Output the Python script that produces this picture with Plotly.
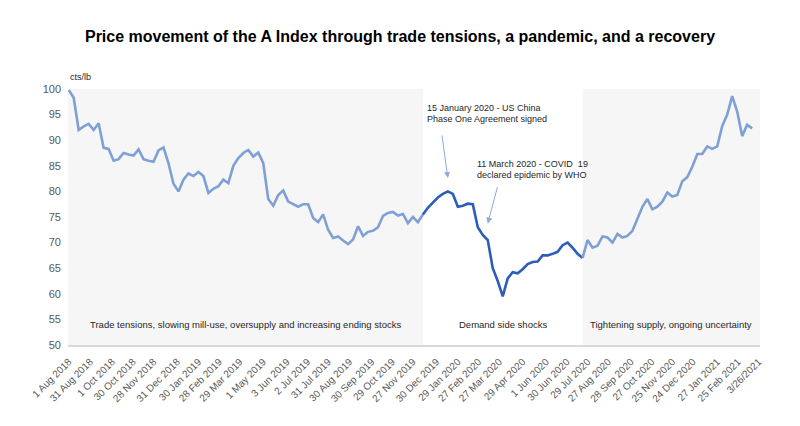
import pandas as pd
import plotly.graph_objects as go

# ---- data (weekly readings, cts/lb) ----
start_date = "2018-08-01"
price = [
    99.8, 98.3, 92.0, 92.7, 93.2, 92.0, 93.3, 88.5, 88.3, 86.0,
    86.3, 87.5, 87.2, 87.0, 88.2, 86.3, 86.0, 85.8, 88.0, 88.6,
    85.5, 81.5, 80.0, 82.3, 83.5, 83.0, 83.8, 83.0, 79.7, 80.5,
    81.0, 82.3, 81.6, 85.0, 86.5, 87.5, 88.1, 86.8, 87.6, 85.5,
    78.5, 77.2, 79.3, 80.2, 78.0, 77.5, 77.0, 77.5, 77.5, 74.8,
    74.0, 75.5, 72.5, 70.9, 71.2, 70.4, 69.7, 70.6, 73.2, 71.3,
    72.1, 72.3, 73.0, 75.2, 75.8, 76.0, 75.3, 75.6, 73.8, 75.0,
    74.0, 75.5, 76.8, 77.8, 78.8, 79.5, 80.0, 79.5, 77.0, 77.2,
    77.6, 77.5, 73.0, 71.5, 70.5, 65.0, 62.5, 59.5, 63.0, 64.2,
    64.0, 64.8, 65.8, 66.2, 66.3, 67.5, 67.5, 67.8, 68.2, 69.5,
    70.0, 69.0, 67.8, 67.0, 70.5, 69.0, 69.4, 71.2, 71.0, 70.0,
    71.7, 71.0, 71.3, 72.3, 74.5, 77.0, 78.5, 76.5, 77.0, 78.0,
    79.8, 79.0, 79.3, 82.0, 82.8, 84.8, 87.3, 87.3, 88.8, 88.3,
    88.8, 92.8, 95.0, 98.6, 95.6, 90.8, 93.0, 92.3,
]
dates = pd.date_range(start_date, periods=len(price), freq="7D")

phase_bounds = ["2018-07-31", "2019-12-11", "2020-07-22", "2021-03-28"]
phase_labels = [
    "Trade tensions, slowing mill-use, oversupply and increasing ending stocks",
    "Demand side shocks",
    "Tightening supply, ongoing uncertainty",
]

tick_dates = [
    "2018-08-01", "2018-08-31", "2018-10-01", "2018-10-30", "2018-11-28",
    "2018-12-31", "2019-01-30", "2019-02-28", "2019-03-29", "2019-05-01",
    "2019-06-03", "2019-07-02", "2019-07-31", "2019-08-30", "2019-09-30",
    "2019-10-29", "2019-11-27", "2019-12-30", "2020-01-29", "2020-02-27",
    "2020-03-27", "2020-04-29", "2020-06-01", "2020-06-30", "2020-07-29",
    "2020-08-27", "2020-09-28", "2020-10-27", "2020-11-25", "2020-12-24",
    "2021-01-27", "2021-02-25", "2021-03-26",
]
tick_text = [
    "1 Aug 2018", "31 Aug 2018", "1 Oct 2018", "30 Oct 2018", "28 Nov 2018",
    "31 Dec 2018", "30 Jan 2019", "28 Feb 2019", "29 Mar 2019", "1 May 2019",
    "3 Jun 2019", "2 Jul 2019", "31 Jul 2019", "30 Aug 2019", "30 Sep 2019",
    "29 Oct 2019", "27 Nov 2019", "30 Dec 2019", "29 Jan 2020", "27 Feb 2020",
    "27 Mar 2020", "29 Apr 2020", "1 Jun 2020", "30 Jun 2020", "29 Jul 2020",
    "27 Aug 2020", "28 Sep 2020", "27 Oct 2020", "25 Nov 2020", "24 Dec 2020",
    "27 Jan 2021", "25 Feb 2021", "3/26/2021",
]

event_dates = ["2020-01-15", "2020-03-11"]
event_values = [82.6, 73.7]
event_lines = [
    ["15 January 2020 - US China", "Phase One Agreement signed"],
    ["11 March 2020 - COVID  19", "declared epidemic by WHO"],
]

LIGHT = "#7fa0d4"
DARK = "#2e5db8"
FONT = "Liberation Sans, Arial, sans-serif"

s = pd.Series(price, index=dates)
b1, b2 = pd.Timestamp(phase_bounds[1]), pd.Timestamp(phase_bounds[2])
seg1 = s[s.index <= b1]
seg2 = s[(s.index >= b1) & (s.index <= b2)]
seg3 = s[s.index >= b2]
seg2 = pd.concat([seg1.iloc[-1:], seg2]).sort_index()
seg2 = seg2[~seg2.index.duplicated()]
seg3 = pd.concat([seg2.iloc[-1:], seg3]).sort_index()
seg3 = seg3[~seg3.index.duplicated()]

fig = go.Figure()
for seg, col in [(seg1, LIGHT), (seg2, DARK), (seg3, LIGHT)]:
    fig.add_trace(go.Scatter(x=seg.index, y=seg.values, mode="lines",
                             line=dict(color=col, width=2.6), showlegend=False,
                             hoverinfo="skip"))

shapes = []
for i in (0, 2):
    shapes.append(dict(type="rect", xref="x", yref="paper",
                       x0=phase_bounds[i], x1=phase_bounds[i + 1], y0=0, y1=1,
                       fillcolor="#f6f6f6", line=dict(width=0), layer="below"))

annotations = []
for i, lab in enumerate(phase_labels):
    t0 = pd.Timestamp(phase_bounds[i]); t1 = pd.Timestamp(phase_bounds[i + 1])
    mid = t0 + (t1 - t0) / 2
    annotations.append(dict(x=mid, y=54.1, xref="x", yref="y", text=lab,
                            showarrow=False,
                            font=dict(size=9.5, color="#262626", family=FONT)))

text_pos = [("2019-12-14", [96.3, 94.15]), ("2020-02-22", [85.35, 83.2])]
for (xd, ys), lines in zip(text_pos, event_lines):
    for yv, ln in zip(ys, lines):
        annotations.append(dict(x=xd, y=yv, xref="x", yref="y", text=ln,
                                showarrow=False, xanchor="left", yanchor="middle",
                                font=dict(size=9, color="#262626", family=FONT)))
arrow_offsets = [(-6, -44), (10, -38)]
for d, v, (ax, ay) in zip(event_dates, event_values, arrow_offsets):
    annotations.append(dict(x=d, y=v, xref="x", yref="y", text="", showarrow=True,
                            ax=ax, ay=ay, arrowhead=2, arrowsize=1.2, arrowwidth=1,
                            arrowcolor="#8eaadb"))

annotations.append(dict(x=0, y=1.047, xref="paper", yref="paper", text="cts/lb",
                        showarrow=False, xanchor="left", yanchor="middle",
                        font=dict(size=9, color="#262626", family=FONT)))

# page body has an 8px offset; margins compensate so the plot area lands at 68..760 x 89..345
fig.update_layout(
    width=800, height=426,
    margin=dict(l=60, r=48, t=81, b=89),
    paper_bgcolor="white", plot_bgcolor="white",
    title=dict(text="<b>Price movement of the A Index through trade tensions, a pandemic, and a recovery</b>",
               x=(400 - 8) / 800, xanchor="center", y=1 - 28 / 426, yanchor="middle",
               font=dict(size=16, color="#000000", family=FONT)),
    shapes=shapes, annotations=annotations,
    font=dict(family=FONT),
)
fig.update_xaxes(type="date", range=[phase_bounds[0], phase_bounds[-1]],
                 tickmode="array", tickvals=tick_dates, ticktext=tick_text,
                 tickangle=-45, tickfont=dict(size=10, color="#595959", family=FONT),
                 showgrid=False, zeroline=False, showline=True,
                 linecolor="#d9d9d9", linewidth=2, ticks="", ticklabelstandoff=5)
fig.update_yaxes(range=[50, 100], tickmode="linear", tick0=50, dtick=5,
                 tickfont=dict(size=11, color="#595959", family=FONT),
                 showgrid=False, zeroline=False, showline=False, ticks="",
                 ticklabelstandoff=6)

fig.write_html("out.html")
